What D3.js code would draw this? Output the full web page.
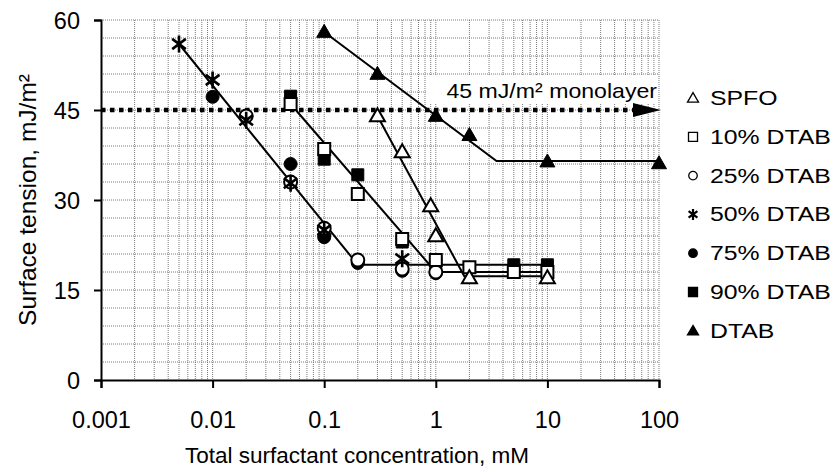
<!DOCTYPE html>
<html>
<head>
<meta charset="utf-8">
<script src="https://cdn.jsdelivr.net/npm/d3@7"></script>
<style>
  body { margin: 0; background: #fff; }
  svg { display: block; font-family: "Liberation Sans", Arial, sans-serif; }
</style>
</head>
<body>
<div id="chart"></div>
<script>
// measured values (concentration in mM, tension in mJ/m2)
const concSPFO = [0.3, 0.5, 0.9, 1, 2, 10];
const tensSPFO = [44, 38, 29, 24, 17, 17];
const conc10 = [0.05, 0.1, 0.2, 0.5, 1, 2, 5, 10];
const tens10 = [46, 38.5, 31, 23.5, 20, 18.8, 18, 18];
const conc25 = [0.02, 0.05, 0.1, 0.2, 0.5, 1];
const tens25 = [44, 33, 25.3, 20, 18.5, 18];
const conc50 = [0.005, 0.01, 0.02, 0.05, 0.1, 0.5];
const tens50 = [56, 50, 43.3, 32.8, 25, 20.2];
const conc75 = [0.01, 0.05, 0.1, 0.2, 0.5, 1];
const tens75 = [47.2, 36, 23.8, 19.5, 18.2, 17.8];
const conc90 = [0.05, 0.1, 0.2, 0.5, 1, 5, 10];
const tens90 = [47.3, 36.8, 34.2, 23, 19.5, 19.2, 19.2];
const concDTAB = [0.1, 0.3, 1, 2, 10, 100];
const tensDTAB = [58, 51, 44, 40.8, 36.4, 36.1];

// fitted trend lines
const fitSPFOx = [0.3, 1.8, 10], fitSPFOy = [44, 17.3, 17.3];
const fit10x = [0.05, 1, 10], fit10y = [46, 18, 18];
const fit50x = [0.005, 0.2, 10], fit50y = [56, 19.2, 19.2];
const fitDTABx = [0.1, 3.5, 100], fitDTABy = [58, 36.5, 36.5];

const xTicks = [0.001, 0.01, 0.1, 1, 10, 100];
const yTicks = [0, 15, 30, 45, 60];
const monolayer = 45;

const width = 835, height = 472;
const svg = d3.select('#chart').append('svg')
    .attr('width', width)
    .attr('height', height);

const x = d3.scaleLog().domain([0.001, 100]).range([101, 659]);
const y = d3.scaleLinear().domain([0, 60]).range([380, 20]);

// the scanned fonts are a bit wider than Liberation Sans
function stretch(sel, k) {
    sel.each(function () {
        const len = this.getComputedTextLength();
        d3.select(this).attr('textLength', len * k).attr('lengthAdjust', 'spacingAndGlyphs');
    });
}

// grid
const minorX = [];
for (let e = -3; e < 2; e++) {
    for (let m = 1; m <= 9; m++) minorX.push(m * Math.pow(10, e));
}
minorX.push(100);
svg.append('g').selectAll('line')
    .data(minorX.slice(1))
    .enter().append('line')
    .attr('x1', d => x(d)).attr('x2', d => x(d))
    .attr('y1', y(60)).attr('y2', y(0))
    .attr('stroke', '#7a7a7a')
    .attr('stroke-width', 1)
    .attr('stroke-dasharray', '1,1');
svg.append('g').selectAll('line')
    .data(d3.range(3, 61, 3))
    .enter().append('line')
    .attr('x1', x(0.001)).attr('x2', x(100))
    .attr('y1', d => y(d)).attr('y2', d => y(d))
    .attr('stroke', '#7a7a7a')
    .attr('stroke-width', 1)
    .attr('stroke-dasharray', '1,1');

// axes
const xAxis = svg.append('g')
    .attr('transform', `translate(0,${y(0)})`)
    .call(d3.axisBottom(x).tickValues(xTicks).tickFormat(d => String(d)).tickSize(8).tickPadding(23));
const yAxis = svg.append('g')
    .attr('transform', `translate(${x(0.001)},0)`)
    .call(d3.axisLeft(y).tickValues(yTicks).tickSize(7).tickPadding(14));
[xAxis, yAxis].forEach(a => {
    a.select('.domain').attr('stroke', '#000').attr('stroke-width', 2);
    a.selectAll('.tick line').attr('stroke', '#000').attr('stroke-width', 2);
    a.selectAll('text').attr('fill', '#000').style('font-size', '23.5px')
        .style('font-family', '"Liberation Sans", Arial, sans-serif');
});
yAxis.selectAll('text').attr('dy', '0.36em');

svg.append('text')
    .attr('x', 357).attr('y', 463)
    .attr('text-anchor', 'middle')
    .style('font-size', '22.5px')
    .text('Total surfactant concentration, mM');
svg.append('text')
    .attr('transform', `translate(36,${y(30)}) rotate(-90)`)
    .attr('text-anchor', 'middle')
    .style('font-size', '24.5px')
    .text('Surface tension, mJ/m²');

// monolayer label and dotted line
svg.append('rect')
    .attr('x', 426).attr('y', 76).attr('width', 232).attr('height', 28)
    .attr('fill', '#fff');
svg.append('text')
    .attr('x', x(100) - 2).attr('y', 98)
    .attr('text-anchor', 'end')
    .style('font-size', '21px')
    .text('45 mJ/m² monolayer')
    .call(stretch, 1.1);
svg.append('line')
    .attr('x1', x(0.001)).attr('x2', x(100) - 24)
    .attr('y1', y(monolayer)).attr('y2', y(monolayer))
    .attr('stroke', '#000')
    .attr('stroke-width', 4.5)
    .attr('stroke-dasharray', '4.5,4.5');
svg.append('path')
    .attr('d', `M${x(100) - 26},${y(monolayer) - 7}L${x(100) + 2},${y(monolayer)}L${x(100) - 26},${y(monolayer) + 7}Z`)
    .attr('fill', '#000');

// fit lines
const line = d3.line().x(d => x(d[0])).y(d => y(d[1]));
[[fitSPFOx, fitSPFOy], [fit10x, fit10y], [fit50x, fit50y], [fitDTABx, fitDTABy]].forEach(([xs, ys]) => {
    svg.append('path')
        .datum(d3.zip(xs, ys))
        .attr('d', line)
        .attr('fill', 'none')
        .attr('stroke', '#000')
        .attr('stroke-width', 2);
});

// markers
function asterisk(r) {
    const a = r * 0.8, b = r * 0.6;
    return `M0,${-r}L0,${r}M${-a},${-b}L${a},${b}M${-a},${b}L${a},${-b}`;
}
function marker(g, shape, filled, size) {
    if (shape === 'asterisk') {
        g.append('path').attr('d', asterisk(size / 2))
            .attr('stroke', '#000').attr('stroke-width', 2.6).attr('fill', 'none');
        return;
    }
    const types = { triangle: d3.symbolTriangle, square: d3.symbolSquare, circle: d3.symbolCircle };
    const area = shape === 'triangle' ? size * size * 0.433 : shape === 'circle' ? Math.PI * size * size / 4 : size * size;
    g.append('path')
        .attr('d', d3.symbol().type(types[shape]).size(area)())
        .attr('transform', shape === 'triangle' ? 'translate(0,1)' : null)
        .attr('fill', filled ? '#000' : '#fff')
        .attr('stroke', '#000')
        .attr('stroke-width', filled ? 1 : 2);
}

// order = drawing order in the plot (later on top)
const series = [
    { name: 'SPFO', xs: concSPFO, ys: tensSPFO, shape: 'triangle', filled: false, order: 6 },
    { name: '10% DTAB', xs: conc10, ys: tens10, shape: 'square', filled: false, order: 5 },
    { name: '25% DTAB', xs: conc25, ys: tens25, shape: 'circle', filled: false, order: 3 },
    { name: '50% DTAB', xs: conc50, ys: tens50, shape: 'asterisk', filled: false, order: 4 },
    { name: '75% DTAB', xs: conc75, ys: tens75, shape: 'circle', filled: true, order: 1 },
    { name: '90% DTAB', xs: conc90, ys: tens90, shape: 'square', filled: true, order: 0 },
    { name: 'DTAB', xs: concDTAB, ys: tensDTAB, shape: 'triangle', filled: true, order: 2 }
];
const plotSize = { triangle: 15, square: 12, circle: 13, asterisk: 17 };

series.slice().sort((a, b) => a.order - b.order).forEach(s => {
    svg.append('g').selectAll('g')
        .data(d3.zip(s.xs, s.ys))
        .enter().append('g')
        .attr('transform', d => `translate(${x(d[0])},${y(d[1])})`)
        .each(function () { marker(d3.select(this), s.shape, s.filled, plotSize[s.shape]); });
});

// legend
const legendSize = { triangle: 11, square: 9, circle: 8.5, asterisk: 11 };
const legend = svg.append('g').selectAll('g')
    .data(series)
    .enter().append('g')
    .attr('transform', (d, i) => `translate(693,${105 + i * 38.8})`);
legend.each(function (d) {
    const g = d3.select(this);
    const m = g.append('g').attr('transform', 'translate(0,-7)');
    marker(m, d.shape, d.filled, legendSize[d.shape]);
    m.selectAll('path').attr('stroke-width', d.shape === 'asterisk' ? 2.2 : 1.3);
});
legend.append('text')
    .attr('x', 17)
    .style('font-size', '20px')
    .text(d => d.name)
    .call(stretch, 1.24);
</script>
</body>
</html>
